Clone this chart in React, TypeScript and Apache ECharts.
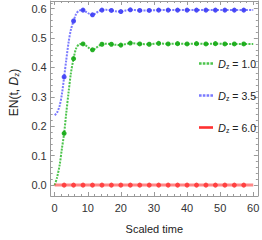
import React, { useEffect, useRef } from "react";
import * as echarts from "echarts";

const curveTime = [0, 0.7, 1.5, 2.2, 2.86, 3.5, 4.2, 4.9, 5.71, 6.5, 7.5, 8.57, 9.5, 10.5, 11.43, 12.5, 13.4, 14.29, 15.5, 17.14, 18.5, 20, 21.5, 22.86, 25.71, 28.57, 31.43, 34.29, 37.14, 40, 42.86, 45.71, 48.57, 51.43, 54.29, 57.14, 60];
const curveGreen = [0, 0.025, 0.068, 0.125, 0.176, 0.245, 0.315, 0.38, 0.43, 0.465, 0.479, 0.48, 0.474, 0.465, 0.46, 0.466, 0.474, 0.479, 0.481, 0.479, 0.477, 0.476, 0.48, 0.483, 0.48, 0.479, 0.482, 0.48, 0.481, 0.48, 0.481, 0.48, 0.481, 0.48, 0.48, 0.48, 0.48];
const curveBlue = [0.238, 0.246, 0.27, 0.31, 0.368, 0.425, 0.485, 0.528, 0.558, 0.582, 0.594, 0.595, 0.589, 0.582, 0.579, 0.585, 0.592, 0.595, 0.596, 0.594, 0.591, 0.59, 0.594, 0.596, 0.594, 0.594, 0.595, 0.595, 0.595, 0.595, 0.595, 0.595, 0.595, 0.595, 0.595, 0.595, 0.595];
const curveRed = [0, 0, 0, 0, 0, 0, 0, 0, 0, 0, 0, 0, 0, 0, 0, 0, 0, 0, 0, 0, 0, 0, 0, 0, 0, 0, 0, 0, 0, 0, 0, 0, 0, 0, 0, 0, 0];

const markerTime = [2.86, 5.71, 8.57, 11.43, 14.29, 17.14, 20, 22.86, 25.71, 28.57, 31.43, 34.29, 37.14, 40, 42.86, 45.71, 48.57, 51.43, 54.29, 57.14];
const markerGreen = [0.176, 0.43, 0.48, 0.46, 0.479, 0.479, 0.476, 0.483, 0.48, 0.479, 0.482, 0.48, 0.481, 0.48, 0.481, 0.48, 0.481, 0.48, 0.48, 0.48];
const markerBlue = [0.368, 0.558, 0.595, 0.579, 0.595, 0.594, 0.59, 0.596, 0.594, 0.594, 0.595, 0.595, 0.595, 0.595, 0.595, 0.595, 0.595, 0.595, 0.595, 0.595];
const markerRed = [0, 0, 0, 0, 0, 0, 0, 0, 0, 0, 0, 0, 0, 0, 0, 0, 0, 0, 0, 0];

const xMajor = [0, 10, 20, 30, 40, 50, 60];
const xMinor = [2, 4, 6, 8, 12, 14, 16, 18, 22, 24, 26, 28, 32, 34, 36, 38, 42, 44, 46, 48, 52, 54, 56, 58];
const yMajor = [0, 0.1, 0.2, 0.3, 0.4, 0.5, 0.6];
const yMinor = [0.02, 0.04, 0.06, 0.08, 0.12, 0.14, 0.16, 0.18, 0.22, 0.24, 0.26, 0.28, 0.32, 0.34, 0.36, 0.38, 0.42, 0.44, 0.46, 0.48, 0.52, 0.54, 0.56, 0.58, 0.62];
const xLabels = ["0", "10", "20", "30", "40", "50", "60"];
const yLabels = ["0.0", "0.1", "0.2", "0.3", "0.4", "0.5", "0.6"];

const seriesNames = ["g", "b", "r"];
const legendValues = ["1.0", "3.5", "6.0"];

const FONT = "Liberation Sans";
const FRAME = "#9a9a9a";

const DASH_ICON = "path://M0,0h2.6v2.4h-2.6zM3.8,0h2.6v2.4h-2.6zM7.6,0h2.6v2.4h-2.6zM11.4,0h2.6v2.4h-2.6z";
const SOLID_ICON = "path://M0,0h14v2.6h-14z";

function zip(xs: number[], ys: number[]) {
  return xs.map((x, i) => [x, ys[i]]);
}

export default function App() {
  const ref = useRef<HTMLDivElement>(null);
  useEffect(() => {
    if (!ref.current) return;
    const chart = echarts.init(ref.current, null, { renderer: "svg" });
    const xMin = -1.2;
    const xMax = 61.4;
    const yMin = -0.037;
    const yMax = 0.626;
    const richAxis = {
      i: { fontStyle: "italic", fontSize: 12, fontFamily: FONT, color: "#222" },
      s: { fontSize: 8, fontFamily: FONT, color: "#222", padding: [5, 0, 0, 0] },
    };
    const richLegend = {
      i: { fontStyle: "italic", fontSize: 11, fontFamily: FONT, color: "#222" },
      s: { fontSize: 7, fontFamily: FONT, color: "#222", padding: [5, 0, 0, 0] },
      n: { fontSize: 10.5, fontFamily: FONT, color: "#222" },
    };
    const xAx = (pos: string, vals: number[], len: number, major: boolean, labels: boolean) => ({
      type: "value",
      position: pos,
      min: xMin,
      max: xMax,
      name: pos === "bottom" && labels ? "Scaled time" : "",
      nameLocation: "middle",
      nameGap: 27,
      nameTextStyle: { fontFamily: FONT, fontSize: 11, color: "#222" },
      axisLine: { show: major, onZero: false, lineStyle: { color: FRAME, width: 1 } },
      axisTick: { show: true, inside: true, length: len, customValues: vals, lineStyle: { color: FRAME } },
      axisLabel: labels
        ? {
            show: true,
            customValues: xMajor,
            margin: 6,
            fontFamily: FONT,
            fontSize: 11,
            color: "#333",
            formatter: (v: number) => xLabels[xMajor.indexOf(Math.round(v))] ?? "",
          }
        : { show: false },
      splitLine: { show: false },
    });
    const yAx = (pos: string, vals: number[], len: number, major: boolean, labels: boolean) => ({
      type: "value",
      position: pos,
      min: yMin,
      max: yMax,
      name: pos === "left" && labels ? "EN(t, {i|D}{s|z})" : "",
      nameLocation: "middle",
      nameGap: 25,
      nameRotate: 90,
      nameTextStyle: { fontFamily: FONT, fontSize: 12, color: "#222", rich: richAxis, padding: [0, 0, 0, 12] },
      axisLine: { show: major, onZero: false, lineStyle: { color: FRAME, width: 1 } },
      axisTick: { show: true, inside: true, length: len, customValues: vals, lineStyle: { color: FRAME } },
      axisLabel: labels
        ? {
            show: true,
            customValues: yMajor,
            margin: 4,
            fontFamily: FONT,
            fontSize: 11,
            color: "#333",
            formatter: (v: number) => {
              const idx = yMajor.findIndex((m) => Math.abs(m - v) < 1e-6);
              return idx >= 0 ? yLabels[idx] : "";
            },
          }
        : { show: false },
      splitLine: { show: false },
    });
    const colors = {
      gLine: "#4cc44c",
      gMark: "#12a812",
      bLine: "#7a7aff",
      bMark: "#3b3bf5",
      rLine: "rgba(255,70,70,0.65)",
      rMark: "#ff3838",
    };
    const curveSeries = (name: string, ys: number[], color: string, type: any, width: number) => ({
      type: "line",
      name,
      data: zip(curveTime, ys),
      xAxisIndex: 0,
      yAxisIndex: 0,
      smooth: 0.3,
      symbol: "none",
      lineStyle: { color, width, type },
      itemStyle: { color },
      z: 2,
    });
    const markSeries = (name: string, ys: number[], color: string) => ({
      type: "scatter",
      name: name + "_m",
      data: zip(markerTime, ys),
      xAxisIndex: 0,
      yAxisIndex: 0,
      symbol: "circle",
      symbolSize: 5,
      itemStyle: { color, opacity: 0.9 },
      z: 3,
    });
    chart.setOption({
      animation: false,
      grid: { left: 35, right: 3, top: 1, bottom: 44, containLabel: false },
      xAxis: [
        xAx("bottom", xMajor, 4, true, true),
        xAx("bottom", xMinor, 2, false, false),
        xAx("top", xMajor, 4, true, false),
        xAx("top", xMinor, 2, false, false),
      ],
      yAxis: [
        yAx("left", yMajor, 4, true, true),
        yAx("left", yMinor, 2, false, false),
        yAx("right", yMajor, 4, true, false),
        yAx("right", yMinor, 2, false, false),
      ],
      legend: {
        data: [
          { name: "g", icon: DASH_ICON, itemStyle: { color: colors.gLine } },
          { name: "b", icon: DASH_ICON, itemStyle: { color: colors.bLine } },
          { name: "r", icon: SOLID_ICON, itemStyle: { color: "#ff3030" } },
        ],
        orient: "vertical",
        left: 199,
        top: 58,
        itemWidth: 14,
        itemHeight: 3,
        itemGap: 20.5,
        padding: 0,
        formatter: (name: string) => `{i|D}{s|z}{n| = ${legendValues[seriesNames.indexOf(name)]}}`,
        textStyle: { rich: richLegend, fontFamily: FONT, fontSize: 11, color: "#222", padding: [0, 0, 0, 0] },
      },
      series: [
        curveSeries("g", curveGreen, colors.gLine, [2, 1.2], 2),
        curveSeries("b", curveBlue, colors.bLine, [2, 1.2], 2),
        curveSeries("r", curveRed, colors.rLine, "solid", 3),
        markSeries("g", markerGreen, colors.gMark),
        markSeries("b", markerBlue, colors.bMark),
        markSeries("r", markerRed, colors.rMark),
      ],
    });
    return () => chart.dispose();
  }, []);
  return <div ref={ref} style={{ width: 262, height: 240, position: "absolute", left: 0, top: 0 }} />;
}
